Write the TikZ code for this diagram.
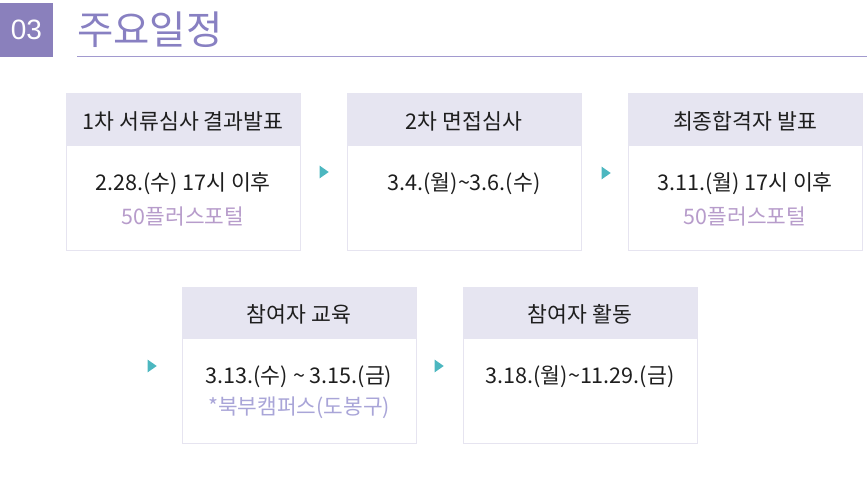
\documentclass[tikz,border=0pt]{standalone}
\usepackage{fontspec}
\setmainfont{Noto Sans CJK KR}
\newfontfamily\numfont{Liberation Sans}
\usetikzlibrary{shapes.geometric}
\definecolor{hdrpurple}{HTML}{8A80BC}
\definecolor{titlepurple}{HTML}{8880C2}
\definecolor{linepurple}{HTML}{A29ACF}
\definecolor{bandfill}{HTML}{E6E5F1}
\definecolor{boxline}{HTML}{E6E4F0}
\definecolor{arrowteal}{HTML}{4CB7C0}
\definecolor{portal}{HTML}{B79CCB}
\definecolor{campus}{HTML}{A9A5D8}
\definecolor{bodytext}{HTML}{1E1E1E}
\tikzset{
  x=1pt,y=-1pt,
  card/.style={draw=boxline, line width=0.8pt, fill=white},
  band/.style={fill=bandfill},
  headtxt/.style={font=\fontsize{21.6}{24}\selectfont, text=bodytext, anchor=center, inner sep=0pt},
  bodytxt/.style={font=\fontsize{21.6}{24}\selectfont, text=bodytext, anchor=center, inner sep=0pt},
  subtxt/.style={font=\fontsize{21.4}{24}\selectfont, anchor=center, inner sep=0pt},
  tri/.style={isosceles triangle, isosceles triangle apex angle=70, fill=arrowteal, inner sep=0pt, minimum width=9pt, minimum height=9pt, draw=none, shape border rotate=0},
}
\begin{document}
\begin{tikzpicture}
\useasboundingbox (0,0) rectangle (867,478);
% header
\fill[hdrpurple] (0,3) rectangle (53,57);
\node[font=\numfont\fontsize{28}{30}\selectfont, text=white, inner sep=0pt] (num) at (26.5,30) {03};
\node[font=\fontsize{39.5}{42}\selectfont, text=titlepurple, inner sep=0pt, anchor=west] (title) at (77,30) {주요일정};
\draw[linepurple, line width=1.2pt] (77,56.5) -- (867,56.5);
% row 1 cards
\draw[card] (66,93) rectangle (300,250);
\fill[band] (66.4,93.4) rectangle (299.6,146);
\draw[card] (347,93) rectangle (581,250);
\fill[band] (347.4,93.4) rectangle (580.6,146);
\draw[card] (628,93) rectangle (862,250);
\fill[band] (628.4,93.4) rectangle (861.6,146);
% row 2 cards
\draw[card] (182,287) rectangle (416,443);
\fill[band] (182.4,287.4) rectangle (415.6,339);
\draw[card] (463,287) rectangle (697,443);
\fill[band] (463.4,287.4) rectangle (696.6,339);
% texts
\node[headtxt] (h1) at (183,121) {1차 서류심사 결과발표};
\node[bodytxt] (b1) at (183,184) {2.28.(수) 17시 이후};
\node[subtxt, text=portal] (s1) at (183,216) {50플러스포털};
\node[headtxt] (h2) at (464,121) {2차 면접심사};
\node[bodytxt] (b2) at (464,184) {3.4.(월)\textasciitilde3.6.(수)};
\node[headtxt] (h3) at (745,121) {최종합격자 발표};
\node[bodytxt] (b3) at (745,184) {3.11.(월) 17시 이후};
\node[subtxt, text=portal] (s3) at (745,216) {50플러스포털};
\node[headtxt] (h4) at (299,314) {참여자 교육};
\node[bodytxt] (b4) at (299,377) {3.13.(수) \textasciitilde{} 3.15.(금)};
\node[subtxt, text=campus] (s4) at (299,408) {*북부캠퍼스(도봉구)};
\node[headtxt] (h5) at (580,314) {참여자 활동};
\node[bodytxt] (b5) at (580,377) {3.18.(월)\textasciitilde11.29.(금)};
% arrows
\node[tri] (a1) at (323,172) {};
\node[tri] (a2) at (605,173) {};
\node[tri] (a3) at (151,366) {};
\node[tri] (a4) at (438,366) {};
\end{tikzpicture}
\end{document}
